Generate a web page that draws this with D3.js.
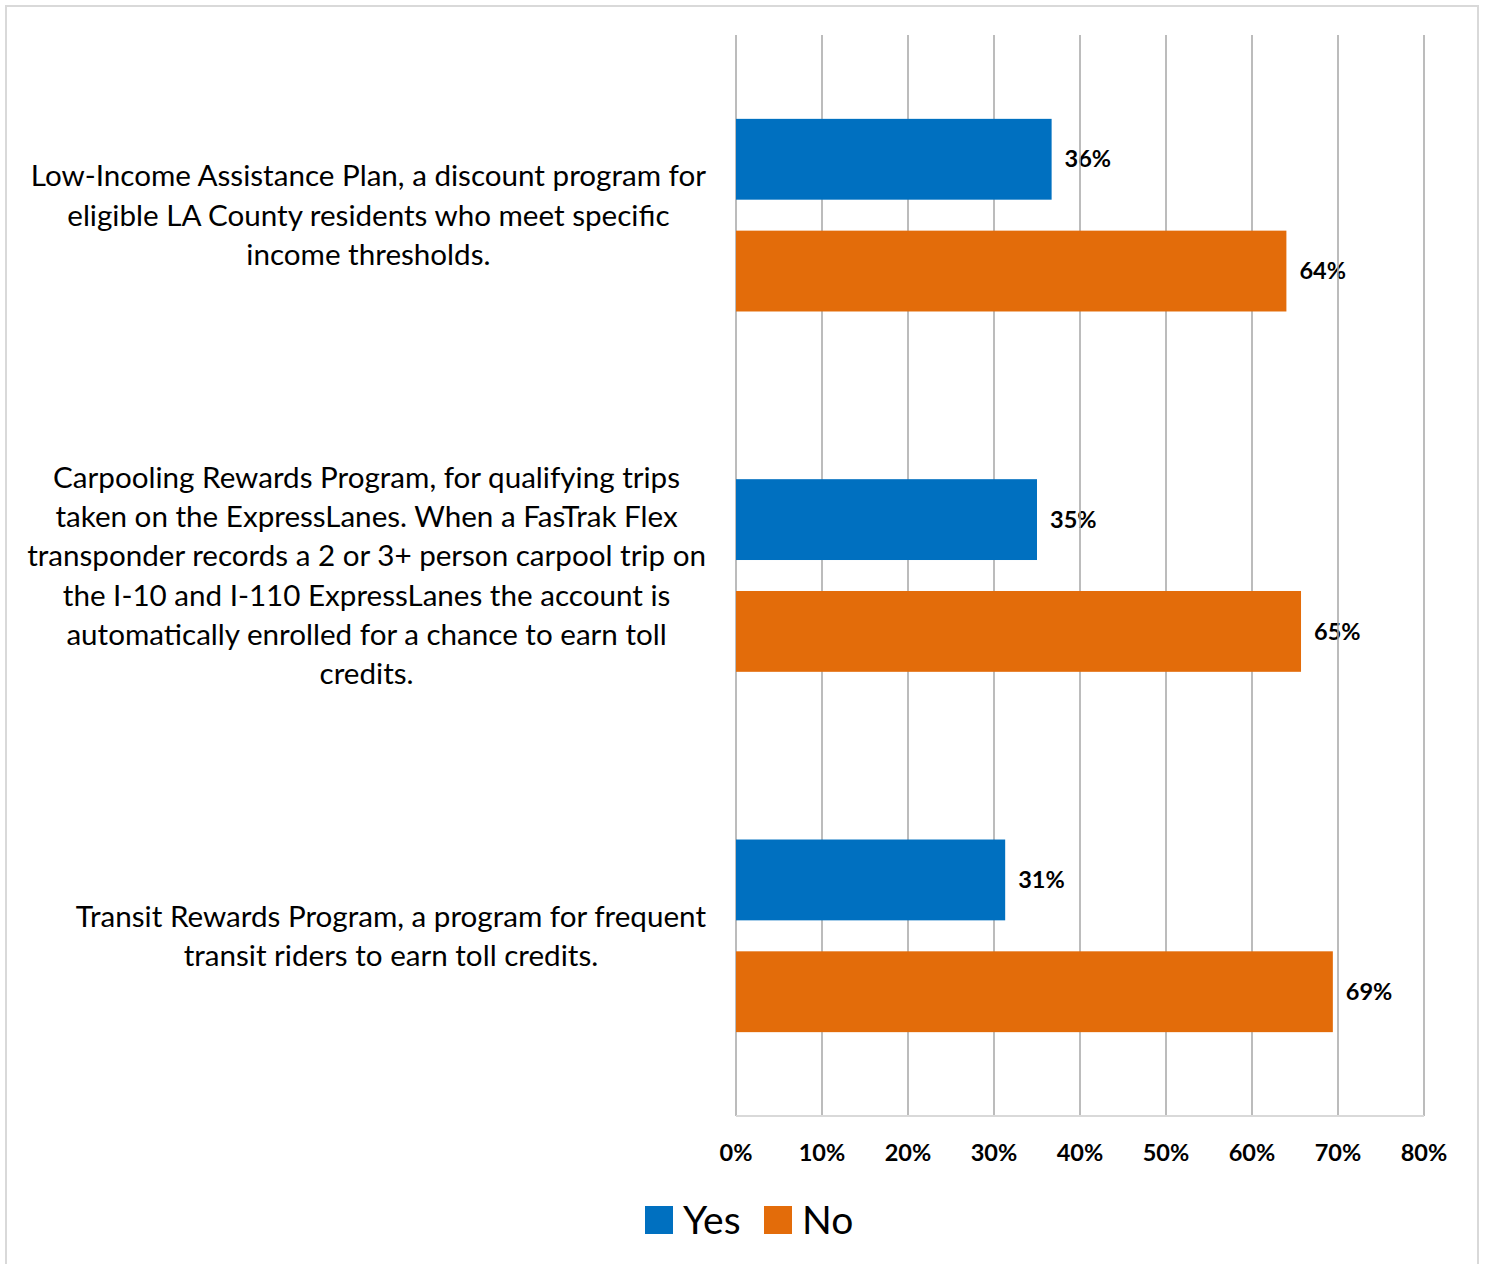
<!DOCTYPE html>
<html>
<head>
<meta charset="utf-8">
<script src="https://cdn.jsdelivr.net/npm/d3@7"></script>
<style>
  body { margin: 0; background: #fff; }
  svg text { font-family: Lato, "Open Sans", sans-serif; fill: #000; }
</style>
</head>
<body>
<svg id="chart"></svg>
<script>
// Dữ liệu
const categories = [
  ["Low-Income Assistance Plan, a discount program for",
   "eligible LA County residents who meet specific",
   "income thresholds."],
  ["Carpooling Rewards Program, for qualifying trips",
   "taken on the ExpressLanes. When a FasTrak Flex",
   "transponder records a 2 or 3+ person carpool trip on",
   "the I-10 and I-110 ExpressLanes the account is",
   "automatically enrolled for a chance to earn toll",
   "credits."],
  ["Transit Rewards Program, a program for frequent",
   "transit riders to earn toll credits."]
];
const seriesNames = ["Yes", "No"];
const yesValues = [36.7, 35.0, 31.3];
const noValues = [64.0, 65.7, 69.4];
const yesLabels = ["36%", "35%", "31%"];
const noLabels = ["64%", "65%", "69%"];
const tickValues = [0, 10, 20, 30, 40, 50, 60, 70, 80];
const colors = ["#0070c0", "#e36c0a"];

const width = 1486, height = 1264;
const margin = { top: 35, right: 62, bottom: 148, left: 736 };

const svg = d3.select("#chart").attr("width", width).attr("height", height);

// Khung viền
svg.append("rect")
  .attr("x", 6).attr("y", 6)
  .attr("width", 1472).attr("height", 1270)
  .attr("fill", "none").attr("stroke", "#d9d9d9").attr("stroke-width", 2);

const x = d3.scaleLinear().domain([0, 80]).range([margin.left, width - margin.right]);
const y = d3.scaleBand().domain(d3.range(categories.length))
  .range([margin.top, height - margin.bottom]).paddingInner(0).paddingOuter(0);
const inner = d3.scaleBand().domain([0, 1]).range([0, y.bandwidth()]).paddingInner(0.277).paddingOuter(0.75);

// Nhãn giá trị (vẽ trước lưới)
const rows = categories.map((c, i) => ({ i, vals: [yesValues[i], noValues[i]], labs: [yesLabels[i], noLabels[i]] }));
rows.forEach(r => {
  r.vals.forEach((v, k) => {
    svg.append("text")
      .attr("x", x(v) + 13)
      .attr("y", y(r.i) + inner(k) + inner.bandwidth() / 2)
      .attr("dy", "0.35em")
      .attr("font-size", 23.5).attr("font-weight", "bold")
      .text(r.labs[k]);
  });
});

// Lưới dọc
svg.append("g").selectAll("line").data(tickValues).join("line")
  .attr("x1", d => x(d)).attr("x2", d => x(d))
  .attr("y1", margin.top).attr("y2", height - margin.bottom)
  .attr("stroke", "#a6a6a6").attr("stroke-width", 1.5);

// Trục dưới
svg.append("line")
  .attr("x1", x(0)).attr("x2", x(80))
  .attr("y1", height - margin.bottom).attr("y2", height - margin.bottom)
  .attr("stroke", "#d9d9d9").attr("stroke-width", 2);

svg.append("g").selectAll("text").data(tickValues).join("text")
  .attr("x", d => x(d)).attr("y", 1153)
  .attr("dy", "0.35em").attr("text-anchor", "middle")
  .attr("font-size", 23.5).attr("font-weight", "bold")
  .text(d => d + "%");

// Cột
rows.forEach(r => {
  r.vals.forEach((v, k) => {
    svg.append("rect")
      .attr("x", x(0))
      .attr("y", y(r.i) + inner(k))
      .attr("width", x(v) - x(0))
      .attr("height", inner.bandwidth())
      .attr("fill", colors[k]);
  });
});

// Nhãn danh mục: khối căn phải tại x=706, các dòng căn giữa trong khối
const lineH = 39.3;
categories.forEach((lines, i) => {
  const g = svg.append("g");
  const texts = lines.map(l => g.append("text").attr("font-size", 29.6).attr("text-anchor", "middle").text(l));
  const maxW = d3.max(texts, t => t.node().getComputedTextLength());
  const cx = 706 - maxW / 2;
  const cy = y(i) + y.bandwidth() / 2;
  texts.forEach((t, j) => {
    t.attr("x", cx)
      .attr("y", cy + (j - (lines.length - 1) / 2) * lineH)
      .attr("dy", "0.35em");
  });
});

// Chú thích
const legend = svg.append("g");
const items = [{ name: seriesNames[0], x: 645, color: colors[0] }, { name: seriesNames[1], x: 764, color: colors[1] }];
items.forEach(d => {
  legend.append("rect").attr("x", d.x).attr("y", 1206).attr("width", 28).attr("height", 28).attr("fill", d.color);
  legend.append("text").attr("x", d.x + 38).attr("y", 1220).attr("dy", "0.35em")
    .attr("font-size", 39).text(d.name);
});
</script>
</body>
</html>
